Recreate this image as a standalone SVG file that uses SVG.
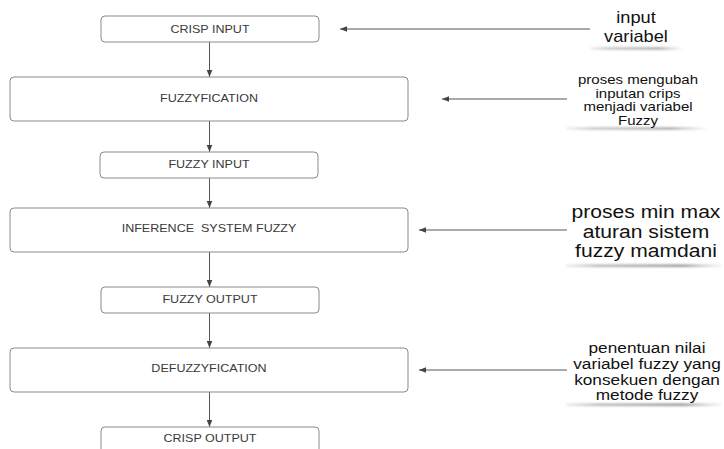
<svg xmlns="http://www.w3.org/2000/svg" width="724" height="449" viewBox="0 0 724 449">
<style>
.box{fill:#fff;stroke:#8a8a8a;stroke-width:1}
.bt{font-family:"Liberation Sans",Arial,sans-serif;font-size:11px;fill:#3a3a3a;text-anchor:middle}
.nt{font-family:"Liberation Sans",Arial,sans-serif;fill:#111;text-anchor:middle}
.con{stroke:#555;stroke-width:1;fill:none}
.sh{fill:url(#shg);filter:url(#blur)}
</style>
<defs>
<marker id="ah" viewBox="0 0 10 10" refX="10" refY="5" markerWidth="7" markerHeight="7" orient="auto-start-reverse" markerUnits="userSpaceOnUse">
<path d="M0,1 L10,5 L0,9 z" fill="#444"/>
</marker>
<linearGradient id="shg" x1="0" y1="0" x2="1" y2="0">
<stop offset="0" stop-color="#aaa" stop-opacity="0.2"/>
<stop offset="0.2" stop-color="#999" stop-opacity="0.7"/>
<stop offset="0.75" stop-color="#888" stop-opacity="0.9"/>
<stop offset="1" stop-color="#aaa" stop-opacity="0.1"/>
</linearGradient>
<filter id="blur" x="-10%" y="-300%" width="120%" height="700%"><feGaussianBlur stdDeviation="1"/></filter>
</defs>
<g id="connectors">
<line class="con" x1="209.5" y1="42" x2="209.5" y2="77" marker-end="url(#ah)"/>
<line class="con" x1="209.5" y1="121" x2="209.5" y2="152" marker-end="url(#ah)"/>
<line class="con" x1="209.5" y1="178" x2="209.5" y2="208" marker-end="url(#ah)"/>
<line class="con" x1="209.5" y1="252" x2="209.5" y2="287" marker-end="url(#ah)"/>
<line class="con" x1="209.5" y1="313" x2="209.5" y2="348" marker-end="url(#ah)"/>
<line class="con" x1="209.5" y1="392" x2="209.5" y2="427" marker-end="url(#ah)"/>
<line class="con" x1="590" y1="29" x2="340" y2="29" marker-end="url(#ah)"/>
<line class="con" x1="567" y1="99" x2="442" y2="99" marker-end="url(#ah)"/>
<line class="con" x1="567" y1="230" x2="419" y2="230" marker-end="url(#ah)"/>
<line class="con" x1="567" y1="370" x2="419" y2="370" marker-end="url(#ah)"/>
</g>
<g id="crisp-input"><rect class="box" x="101" y="16" width="218" height="26" rx="4"/><text class="bt" transform="translate(210,33) scale(1.14,1)">CRISP INPUT</text></g>
<g id="fuzzyfication"><rect class="box" x="10" y="77" width="398" height="44" rx="4"/><text class="bt" transform="translate(209,102) scale(1.14,1)">FUZZYFICATION</text></g>
<g id="fuzzy-input"><rect class="box" x="100" y="152" width="218" height="26" rx="4"/><text class="bt" transform="translate(209,168) scale(1.14,1)">FUZZY INPUT</text></g>
<g id="inference"><rect class="box" x="10" y="208" width="398" height="44" rx="4"/><text class="bt" transform="translate(209,232) scale(1.14,1)" xml:space="preserve">INFERENCE  SYSTEM FUZZY</text></g>
<g id="fuzzy-output"><rect class="box" x="101" y="287" width="218" height="26" rx="4"/><text class="bt" transform="translate(210,303) scale(1.14,1)">FUZZY OUTPUT</text></g>
<g id="defuzzyfication"><rect class="box" x="10" y="348" width="398" height="44" rx="4"/><text class="bt" transform="translate(209,372) scale(1.14,1)">DEFUZZYFICATION</text></g>
<g id="crisp-output"><rect class="box" x="101" y="427" width="218" height="30" rx="4"/><text class="bt" transform="translate(210,442) scale(1.14,1)">CRISP OUTPUT</text></g>
<g id="note1">
<rect class="sh" x="590" y="47.5" width="92" height="2"/>
<g transform="translate(636,0) scale(1.14,1)">
<text class="nt" font-size="16" x="0" y="23">input</text>
<text class="nt" font-size="16" x="0" y="42">variabel</text>
</g>
</g>
<g id="note2">
<rect class="sh" x="566" y="127.5" width="140" height="2"/>
<g transform="translate(638,0) scale(1.2,1)">
<text class="nt" font-size="12.5" x="0" y="84">proses mengubah</text>
<text class="nt" font-size="12.5" x="0" y="98">inputan crips</text>
<text class="nt" font-size="12.5" x="0" y="111">menjadi variabel</text>
<text class="nt" font-size="12.5" x="0" y="125">Fuzzy</text>
</g>
</g>
<g id="note3">
<rect class="sh" x="566" y="264.5" width="156" height="2.5"/>
<g transform="translate(646,0) scale(1.14,1)">
<text class="nt" font-size="18.5" x="0" y="218">proses min max</text>
<text class="nt" font-size="18.5" x="0" y="238">aturan sistem</text>
<text class="nt" font-size="18.5" x="0" y="257">fuzzy mamdani</text>
</g>
</g>
<g id="note4">
<rect class="sh" x="566" y="403.5" width="156" height="2.5"/>
<g transform="translate(647,0) scale(1.19,1)">
<text class="nt" font-size="14.5" x="0" y="353">penentuan nilai</text>
<text class="nt" font-size="14.5" x="0" y="369">variabel fuzzy yang</text>
<text class="nt" font-size="14.5" x="0" y="385">konsekuen dengan</text>
<text class="nt" font-size="14.5" x="0" y="400">metode fuzzy</text>
</g>
</g>
</svg>
